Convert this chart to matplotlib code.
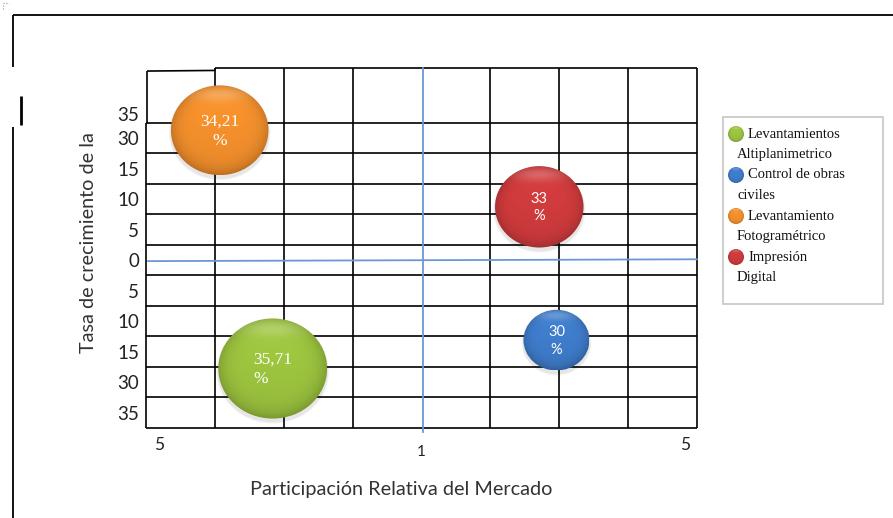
import numpy as np
import matplotlib
matplotlib.use('Agg')
import matplotlib.pyplot as plt
import matplotlib.colors as mcolors
from matplotlib.patches import Ellipse, Rectangle

# Matriz BCG: participación relativa vs. tasa de crecimiento
services = ["Levantamientos Altiplanimetrico", "Control de obras civiles",
            "Levantamiento Fotogramétrico", "Impresión Digital"]
legend_lines = [("Levantamientos", "Altiplanimetrico"),
                ("Control de obras", "civiles"),
                ("Levantamiento", "Fotogramétrico"),
                ("Impresión", "Digital")]
share_pos = [1.84, 5.96, 1.07, 5.71]       # columna en la cuadrícula (0..8)
growth_pos = [-3.55, -2.62, 4.26, 1.75]    # fila relativa a la línea central
share_pct = [35.71, 30.0, 34.21, 33.0]
bubble_labels = ["35,71\n%", "30\n%", "34,21\n%", "33\n%"]
colors = ["#9dc43f", "#3f7ccb", "#f4902c", "#d03b3d"]

ytick_pos = [4.8, 4, 3, 2, 1, 0, -1, -2, -3, -4, -5]
ytick_labels = ["35", "30", "15", "10", "5", "0", "5", "10", "15", "30", "35"]
xtick_pos = [0.19, 4.0, 7.83]
xtick_labels = ["5", "1", "5"]

W, H = 893, 518
fig = plt.figure(figsize=(W / 100, H / 100), dpi=100, facecolor='white')

# page layer in pixel units (frame, legend, axis titles)
page = fig.add_axes([0, 0, 1, 1], zorder=0)
page.set_xlim(0, W)
page.set_ylim(H, 0)
page.axis('off')

# chart area
L, R, T, B = 146, 697, 68, 428
ax = fig.add_axes([L / W, 1 - B / H, (R - L) / W, (B - T) / H], zorder=1)
ax.set_xlim(0, 8)
ax.set_ylim(-5.5, 6.3)
for s in ax.spines.values():
    s.set_visible(False)
px_x = 8 / (R - L)        # data units per pixel
px_y = 11.8 / (B - T)

lk = dict(color='black', lw=1.2, solid_capstyle='butt', clip_on=False, zorder=2)
for xv in [1, 2, 3, 5, 6, 7]:
    ax.plot([xv, xv], [-5.5, 6.3], **lk)
ax.plot([8, 8], [-5.5, 6.3], **lk)
for yv in [4.5, 3.5, 2.5, 1.5, 0.5, -0.5, -1.5, -2.5, -3.5, -4.5, -5.5]:
    ax.plot([0, 8], [yv, yv], **lk)
ax.plot([1, 8], [6.3, 6.3], **lk)
ax.plot([0.015, 1, 1], [6.2, 6.22, 6.3], **lk)
ax.plot([0, 0], [-5.5, 4.5], **lk)
ax.plot([0.015, 0.015], [4.5, 6.2], **lk)

# blue quadrant dividers
blue = '#6c97d4'
ax.plot([4.02, 4.02], [6.3, -5.5 - 4 * px_y], color=blue, lw=1.3, clip_on=False, zorder=3)
ax.plot([0.03, 8], [-0.03, 0.03], color=blue, lw=1.3, clip_on=False, zorder=3)


def shaded_disc(target, cx, cy, w, h, color, z, flip=False):
    rgb = np.array(mcolors.to_rgb(color))
    n = 160
    u = np.linspace(-1, 1, n)
    U, V = np.meshgrid(u, u)
    r = np.clip(np.sqrt(U ** 2 + V ** 2), 0, 1)
    shade = 1.0 - 0.18 * r ** 6 - 0.05 * V
    img = rgb * shade[..., None]
    sheen = np.exp(-((U / 0.6) ** 2 + ((V + 0.8) / 0.16) ** 2)) * 0.22
    img = img + (1 - img) * sheen[..., None]
    img = np.clip(img, 0, 1)
    if flip:
        ext = (cx - w / 2, cx + w / 2, cy + h / 2, cy - h / 2)
    else:
        ext = (cx - w / 2, cx + w / 2, cy - h / 2, cy + h / 2)
    im = target.imshow(img, extent=ext, origin='upper', zorder=z,
                       interpolation='bilinear', aspect='auto')
    clip = Ellipse((cx, cy), w, h, facecolor='none', edgecolor='none')
    target.add_patch(clip)
    im.set_clip_path(clip)


label_align = ['left', 'center', 'center', 'center']
for xs, ys, val, lab, col, al in zip(share_pos, growth_pos, share_pct, bubble_labels,
                                     colors, label_align):
    d = (val - 21.2) * 7.5          # diameter in pixels from share value
    w, h = d * px_x, d * 0.92 * px_y
    for k, a in [(4, 0.04), (2, 0.06)]:
        ax.add_patch(Ellipse((xs, ys - 3 * px_y), w + k * px_x, h + k * px_y,
                             facecolor='black', edgecolor='none', alpha=a, zorder=4))
    shaded_disc(ax, xs, ys, w, h, col, 5)
    serif = ',' in lab
    ax.text(xs, ys - 1 * px_y, lab, ha='center', va='center', multialignment=al,
            color='white', fontsize=12.5 if serif else 10.5, linespacing=1.3,
            family='Liberation Serif' if serif else 'Lato', zorder=6)

ax.set_xlim(0, 8)
ax.set_ylim(-5.5, 6.3)
ax.set_yticks(ytick_pos, ytick_labels)
ax.set_xticks([])
ax.tick_params(axis='y', length=0, pad=5, labelsize=13.5, labelcolor='#222222')
for t in ax.get_yticklabels():
    t.set_family('Lato')
for xv, lab in zip(xtick_pos, xtick_labels):
    dy = -0.067 if lab == "1" else -0.047
    ax.text(xv, dy, lab, transform=ax.get_xaxis_transform(), ha='center', va='center',
            fontsize=12.5 if lab != "1" else 11, family='Lato', color='#222222')

page.text(401, 490, "Participación Relativa del Mercado", ha='center', va='center',
          fontsize=14.3, family='Lato', color='#333333')
page.text(88, 243, "Tasa de crecimiento de la", ha='center', va='center', rotation=90,
          fontsize=14.3, family='Lato', color='#333333')

# page frame
fk = dict(color='black', lw=1.3, solid_capstyle='butt')
page.plot([12.5, W], [15, 15], **fk)
page.plot([12.5, 12.5], [15, 67], **fk)
page.plot([12.5, 12.5], [127, H], **fk)
page.plot([21, 21], [96, 125], color='black', lw=2, solid_capstyle='butt')
page.plot([3, 3, 9], [9, 3, 3], color='#999999', lw=0.8, ls=':')

# legend
page.add_patch(Rectangle((723, 117), 160, 187, facecolor='white', edgecolor='#c6c6c6', lw=1.2))
for i, ((l1, l2), col) in enumerate(zip(legend_lines, colors)):
    yc = 134 + 41 * i
    shaded_disc(page, 736, yc, 16, 16, col, 3, flip=True)
    page.text(748, yc, l1, ha='left', va='center', fontsize=10.5,
              family='Liberation Serif', color='#111111', zorder=4)
    page.text(737, yc + 20.5, l2, ha='left', va='center', fontsize=10.5,
              family='Liberation Serif', color='#111111', zorder=4)
page.set_xlim(0, W)
page.set_ylim(H, 0)

fig.savefig('out.png', dpi=100, facecolor='white')
